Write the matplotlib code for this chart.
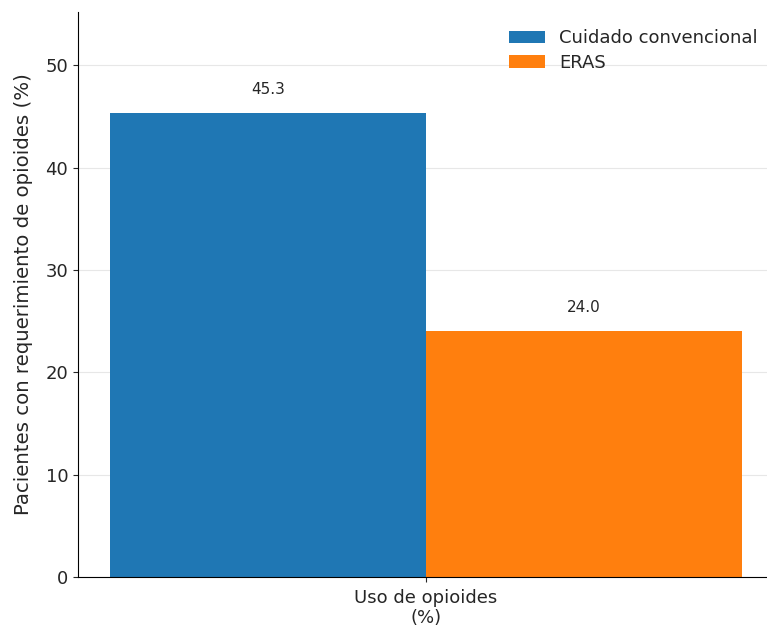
import matplotlib
matplotlib.use("Agg")
import matplotlib.pyplot as plt
import numpy as np

categories = ["Uso de opioides\n(%)"]
series_names = ["Cuidado convencional", "ERAS"]
conventional = [45.3]
eras = [24.0]
colors = ["#1f77b4", "#ff7f0e"]

text_color = "#262626"
plt.rcParams["text.color"] = text_color
plt.rcParams["axes.labelcolor"] = text_color
plt.rcParams["xtick.color"] = text_color
plt.rcParams["ytick.color"] = text_color

fig = plt.figure(figsize=(7.67, 6.28), dpi=100)
ax = fig.add_axes([78 / 767, 1 - 577 / 628, (774 - 78) / 767, (577 - 12) / 628])

x = np.arange(len(categories))
width = 0.35
b1 = ax.bar(x - width / 2, conventional, width, color=colors[0], label=series_names[0], zorder=2)
b2 = ax.bar(x + width / 2, eras, width, color=colors[1], label=series_names[1], zorder=2)

for bars in (b1, b2):
    for rect in bars:
        h = rect.get_height()
        ax.annotate(f"{h:.1f}", (rect.get_x() + rect.get_width() / 2, h),
                    xytext=(0, 12), textcoords="offset points",
                    ha="center", va="bottom", fontsize=11)

ax.set_xticks(x)
ax.set_xticklabels(categories, fontsize=13, linespacing=1.15)
ax.tick_params(axis="x", pad=5)
ax.tick_params(axis="y", labelsize=13)
ax.set_ylabel("Pacientes con requerimiento de opioides (%)", fontsize=14.2, labelpad=9)
ax.set_ylim(0, 55.2)
ax.set_xlim(-0.3855, 0.3855)
ax.yaxis.grid(True, alpha=0.3, zorder=0)
ax.set_axisbelow(True)
ax.spines["top"].set_visible(False)
ax.spines["right"].set_visible(False)
ax.legend(frameon=False, fontsize=13, loc="upper right", labelspacing=0.35,
          bbox_to_anchor=(774 / 767, 1 - 13 / 628), bbox_transform=fig.transFigure)

fig.savefig("out.png", dpi=100)
